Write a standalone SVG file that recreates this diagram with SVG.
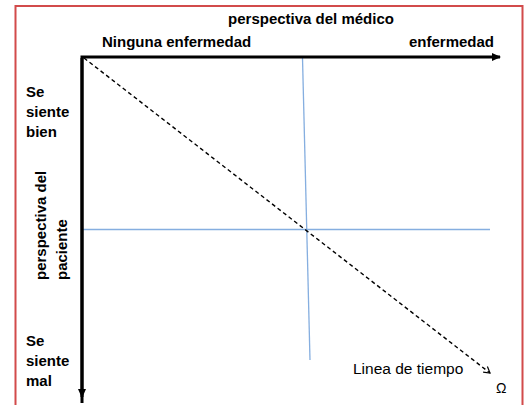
<svg xmlns="http://www.w3.org/2000/svg" width="528" height="405" viewBox="0 0 528 405">
<style>
.b{font-family:"Liberation Sans",Arial,sans-serif;font-weight:bold;font-size:15px;fill:#000}
.r{font-family:"Liberation Sans",Arial,sans-serif;font-size:15.5px;fill:#000}
.axis{stroke:#000;stroke-width:3;fill:none}
.blue{stroke:#85aee0;stroke-width:1.3;fill:none}
</style>
<defs>
<marker id="ah" markerWidth="10" markerHeight="10" refX="8" refY="5" orient="auto" markerUnits="userSpaceOnUse">
<path d="M0,1 L9,5 L0,9 Z" fill="#000"/>
</marker>
<marker id="oh" markerWidth="10" markerHeight="10" refX="8" refY="5" orient="auto" markerUnits="userSpaceOnUse">
<path d="M2,1.5 L8,5 L2,8.5" fill="none" stroke="#000" stroke-width="1.2"/>
</marker>
</defs>
<rect width="528" height="405" fill="#fff"/>
<path d="M15.5,410 V6 H522.5 V410" fill="none" stroke="#d24b4b" stroke-width="2"/>
<g id="connectors">
<line class="blue" x1="302.5" y1="58" x2="310" y2="360"/>
<line class="blue" x1="83" y1="229.5" x2="490" y2="229.5"/>
<line x1="84" y1="58" x2="490" y2="373" stroke="#000" stroke-width="1.4" stroke-dasharray="4,3" marker-end="url(#oh)"/>
<path class="axis" d="M82,403 V57 H500" marker-end="url(#ah)"/>
<line class="axis" x1="82" y1="58" x2="82" y2="397" marker-end="url(#ah)"/>
</g>
<g id="title-top"><text class="b" x="311" y="24" text-anchor="middle">perspectiva del médico</text></g>
<g id="ninguna"><text class="b" x="102" y="47">Ninguna enfermedad</text></g>
<g id="enfermedad"><text class="b" x="494" y="47" text-anchor="end">enfermedad</text></g>
<g id="bien"><text class="b" x="26" y="97">Se</text><text class="b" x="26" y="117">siente</text><text class="b" x="26" y="137">bien</text></g>
<g id="paciente"><text class="b" transform="translate(46,280) rotate(-90)">perspectiva del</text><text class="b" transform="translate(67,280) rotate(-90)">paciente</text></g>
<g id="mal"><text class="b" x="26" y="346">Se</text><text class="b" x="26" y="366">siente</text><text class="b" x="26" y="386">mal</text></g>
<g id="tiempo"><text class="r" x="353" y="374">Linea de tiempo</text></g>
<g id="omega"><text class="r" x="496" y="393" style="font-size:14px">Ω</text></g>
</svg>
